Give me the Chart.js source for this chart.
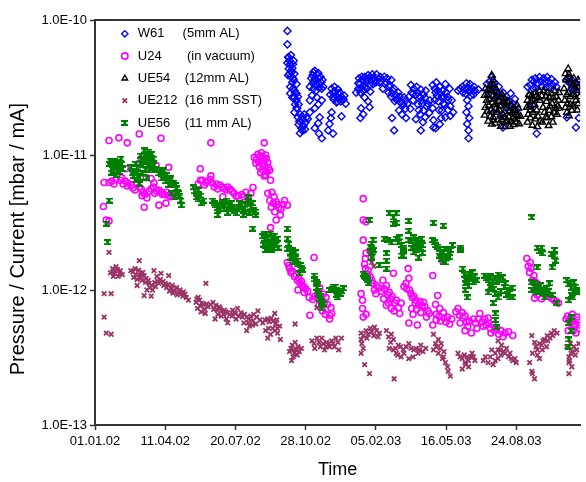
<!DOCTYPE html>
<html>
<head>
<meta charset="utf-8">
<script src="https://cdn.jsdelivr.net/npm/chart.js@4.4.1/dist/chart.umd.min.js"></script>
<style>
  html, body { margin: 0; padding: 0; background: #fff; }
</style>
</head>
<body>
<canvas id="pressure_chart" width="586" height="482"></canvas>
<script>
// Данные: день от 01.01.02, давление/ток в единицах 1e-12 mbar/mA
const UNIT = 1e-12;
const START = Date.UTC(2002, 0, 1);

const xTicks = [0, 100, 200, 300, 400, 500, 600];
const yTicks = [1e-13, 1e-12, 1e-11, 1e-10];

const labels = ["W61", "U24", "UE54", "UE212", "UE56"];
const notes = ["(5mm AL)", "(in vacuum)", "(12mm AL)", "(16 mm SST)", "(11 mm AL)"];

const w61 = [
  [274,83],[274,66],[275,53],[277,50],[274,48],[278,47],[281,44],[279,42],[277,40],[275,39],
  [282,37],[281,34.5],[278,32],[284,30],[278,28.6],[285,29],[284,26.7],[287,25.4],[285,23.7],[287,22.2],
  [276,53],[279,55],[283,50],[282,47],[276,43.5],[280,41],[284,40],[279,38],[283,36],[287,33.5],[282,31],[287,28.6],[281,26.7],[289,27],[286,25.4],[290,23.7],[288,22.2],[284,20.7],
  [289,19],[292,20],[295,19.3],[298,20],[291,17.8],[296,18.1],[301,19],[294,15.8],[292,14.5],[295,15.2],
  [290,16.8],[297,16.5],[300,17.5],[303,18.5],[299,15.5],
  [313,42],[310,39],[316,39.5],[308,37],[313,36.5],[319,37],[322,34.5],[310,34],[316,33],[306,32],[325,32],[315,30],
  [311,41],[318,40.5],[321,38],[324,36],[312,35],[318,34],[323,31],[311,31],[314,33.5],[319,31.5],
  [309,27.6],[316,26.7],[306,25.4],[323,25.4],[318,23.7],[313,22.2],[306,20.7],[320,19],[318,17.2],[313,15.8],[319,14.4],[323,13.3],
  [337,31],[341,32],[346,30.7],[349,29],[339,29],[343,27.6],[351,27],[347,26],[340,25.8],[350,24.9],[344,24.5],[354,25.8],[357,24],
  [335,28],[342,29.5],[347,28.5],[345,25],[339,27],[352,25.5],[355,27.5],
  [337,20.7],[336,18.8],[351,19.3],[334,17],[332,15.2],[339,14.4],
  [377,33.5],[375,31],[381,36],[384,37.8],[389,39],[395,39.5],[401,39.5],[406,38],[386,34.5],[394,36],[399,36],[385,32],[378,29],[405,34.5],
  [375,34],[379,31.5],[383,33],[388,36.5],[392,38],[397,37.5],[400,34.5],[404,36.5],[382,30],[387,31],[391,33],[380,38],[376,37],[372,29],[396,33.5],[392,29.5],
  [384,26.7],[389,24.9],[379,22.2],[391,22.6],[382,20],[378,18.8],
  [412,38],[416,37],[422,36],[413,33.5],[419,32],[426,31],[432,29],[423,28.6],[434,27],[440,26.7],[429,25.8],[443,25.4],[437,24],[447,27],[451,29],
  [415,34.5],[420,33],[424,30],[428,28],[418,29],[431,26],[435,24.5],[427,25],[422,27],[410,31],[407,35],[439,23.5],[442,22],[445,24],[449,22],
  [426,15.2],[433,21.4],[437,20],[423,18.8],[443,18.8],
  [450,33],[454,31],[457,28],[463,27],[453,25.4],[468,28],[471,30],[465,25.4],[460,23.7],[472,23],[468,21.4],[477,25.4],[463,20],[457,18.4],[467,17.5],[464,15.2],[485,15.8],
  [453,28.5],[460,29],[464,30.5],[458,32],[466,24],[470,26.5],[474,24],[461,21.5],[470,19],[476,20.5],
  [481,33],[486,34.5],[491,32],[495,30],[499,33.5],[505,31],[485,29],[494,27],[502,27],[508,25.4],[489,24.9],[498,23.7],[506,23],[481,22.2],[494,21.4],[510,20.7],[499,19],[482,18.1],[482,16],[491,16.9],
  [484,31],[488,30],[492,28.5],[497,27],[500,29],[503,25.5],[496,24],[487,27.5],[484,25.5],[490,21.5],[503,21.5],[506,19.5],[493,18.8],
  [517,30],[523,32],[529,34],[534,33.5],[540,32],[546,30.5],[524,29],[533,29.5],[539,28],
  [520,31],[526,31],[531,31.5],[536,31],[541,30],[528,28.5],[535,27.5],
  [530,25.4],[532,23],[529,20.7],[533,18.8],[530,17],[532,15.2],[532,13.3],
  [558,33.5],[565,37.8],[569,34.5],[575,32],[581,29],[586,27],[592,28.6],[598,26],[595,24],[564,27.6],[574,25.4],[584,23.7],[589,21.4],[578,19.3],[567,20.7],[581,16],[600,21.4],
  [560,30],[562,35],[567,32],[571,29],[576,28],[583,26],[590,25],[594,23],[587,24.5],
  [616,32],[622,36],[627,37],[633,37.8],[639,37],[644,37.8],[650,36.5],[655,34.5],[624,31],[636,32],[647,32],[619,27.6],[629,14.4],[623,23.3],
  [620,33],[625,35],[630,34],[635,35],[641,35],[646,35],[652,33],[628,31],[642,31.5],[657,32],
  [672,19],[671,36],[677,33.5],[682,30],[688,32],[685,16],[689,18.8],
  [674,37],[679,36],[685,34],[690,35],[680,31.5],[687,29]
];

const u24 = [
  [20,12.8],[34,13.4],[46,12.3],[63,14.3],[94,13.3],[165,12.3],[241,12.3],
  [12,4.15],[16,3.3],[20,3.25],[13,6.25],
  [20,6.25],[27,6.1],[36,6.5],[43,6.4],[51,6.0],[57,5.5],[63,5.8],[68,5.3],[74,4.8],[80,6.7],[80,5.6],[85,5.2],[91,5.5],[96,5.1],[102,5.3],[108,4.9],[113,5.2],
  [24,6.4],[30,6.6],[40,6.1],[47,6.2],[54,5.7],[60,6.2],[66,5.6],[71,5.1],[77,5.4],[83,5.8],[88,5.4],[94,5.3],[99,5.1],[105,5.0],[110,5.1],[116,5.0],[46,5.9],[38,6.8],[84,6.2],
  [34,8.4],[44,7.9],[63,8.7],[80,8.1],[87,8.4],[105,8.1],[73,6.8],
  [70,4.1],[101,4.4],[91,4.25],[67,5.0],
  [147,6.1],[153,6.5],[158,6.25],[164,6.6],[170,5.8],[178,6.0],[184,5.65],[189,5.8],[195,5.4],[201,4.95],[209,5.1],[218,4.8],[222,5.2],[182,4.9],[150,7.9],[165,7.0],
  [150,6.5],[156,6.0],[161,6.4],[167,6.2],[173,6.1],[175,5.6],[181,5.8],[187,5.5],[192,5.6],[198,5.2],[204,5.0],[212,4.9],[215,5.3],
  [227,9.6],[232,10.1],[237,10.4],[243,10.0],[229,8.7],[234,8.2],[240,9.1],[246,8.8],[236,7.4],[243,7.1],[249,7.7],[250,6.5],
  [230,9.3],[235,9.8],[239,9.6],[244,9.4],[233,8.9],[238,8.6],[242,8.3],[247,8.0],[238,7.8],[245,7.5],[241,7.0],
  [225,5.75],[246,5.2],[249,4.6],[251,4.1],[256,3.8],[260,4.3],[265,4.0],[270,4.6],[274,4.25],[264,3.6],[258,3.3],[250,2.9],
  [252,5.3],[255,4.9],[258,4.5],[262,4.1],[268,4.3],[254,4.4],
  [274,1.6],[277,1.44],[279,1.35],[284,1.26],[288,1.18],[292,1.12],[289,1.0],[295,1.08],[298,0.96],[312,1.74],[316,1.12],[320,1.04],
  [276,1.52],[281,1.38],[286,1.3],[290,1.22],[294,1.16],[297,1.06],[300,1.02],[303,0.98],[313,0.9],[317,0.92],[322,0.87],[329,0.88],[331,0.78],[324,0.7],[328,0.66],
  [318,0.97],[305,0.88],[310,0.85],[325,0.93],[327,0.81],[319,0.77],[306,0.65],[334,0.65],[334,0.61],[336,0.74],[337,0.67],
  [382,4.75],[382,3.3],[386,3.2],[382,2.34],[386,1.87],[385,1.71],[385,1.44],[389,1.39],[394,1.18],[401,1.08],[398,1.0],[379,0.94],
  [381,0.84],[381,0.73],[382,0.63],[386,0.66],[410,1.18],[415,1.08],[419,0.96],[423,0.9],[429,0.84],[436,0.8],[422,0.73],[415,0.77],
  [426,0.7],[434,0.67],[425,1.33],
  [388,1.3],[392,1.25],[396,1.12],[404,1.04],[408,0.98],[412,1.02],[417,0.92],[421,0.86],[427,0.8],[432,0.74],[418,0.8],[411,0.86],[400,0.94],[384,1.55],
  [443,1.12],[447,1.22],[448,1.0],[454,0.9],[457,0.84],[461,0.77],[468,0.81],[474,0.7],[464,0.68],[451,0.73],[447,0.57],[459,0.55],
  [481,1.28],[488,0.91],[495,1.65],[485,0.78],[491,0.73],[496,0.68],[502,0.63],[508,0.61],[492,0.59],[481,0.55],
  [440,1.06],[444,1.02],[450,0.94],[452,0.88],[456,0.8],[463,0.82],[466,0.76],[470,0.75],[458,0.72],[453,0.66],[472,0.63],[476,0.67],[486,0.66],[490,0.64],[497,0.62],[500,0.58],[505,0.56],[486,0.6],
  [517,0.73],[523,0.68],[527,0.64],[533,0.59],[539,0.61],[520,0.57],[527,0.5],[536,0.48],[548,0.67],[555,0.61],[561,0.57],[567,0.55],
  [572,0.52],[578,0.5],[584,0.48],[589,0.49],[595,0.46],[564,0.48],[553,0.54],[446,1.44],
  [514,0.69],[519,0.65],[524,0.62],[529,0.58],[542,0.57],[546,0.61],[551,0.58],[557,0.55],[563,0.52],[569,0.5],[575,0.47],[581,0.45],[560,0.62],[544,0.52],[531,0.54],
  [615,1.71],[620,1.6],[619,1.35],[623,1.18],[629,1.06],[633,1.0],[640,0.93],[647,0.9],[654,0.84],[660,0.8],[626,0.87],
  [617,1.5],[621,1.45],[625,1.28],[627,1.15],[631,1.1],[636,0.98],[643,0.95],[650,0.87],[657,0.82],[630,0.92],[636,0.86],
  [671,0.61],[677,0.57],[682,0.54],[688,0.6],[680,0.66],[674,0.5],[685,0.48],[690,0.52],
  [673,0.64],[676,0.6],[679,0.58],[684,0.56],[687,0.63],[681,0.5],[689,0.55]
];

const ue54 = [
  [555,27.6],[558,25.4],[561,30],[563,33],[565,39],[567,36],[571,31],[567,27.6],[574,29],[578,26.7],
  [561,23.3],[570,23.7],[577,23],[582,24.5],[586,22.2],[592,23.3],[598,21.4],[603,22.2],[572,20.7],[581,20],
  [589,19.3],[595,18.8],[606,19.3],[555,19.7],[563,19.3],[574,18.1],[585,17.5],[598,18.4],[565,16.9],[578,16.3],[591,16.3],
  [556,31],[559,28],[562,26],[565,30],[568,33],[566,24.5],[569,26],[572,27],[575,25],[580,28],[583,26],[585,24],[588,25],
  [590,21],[594,20.5],[597,22],[600,20],[603,19.5],[601,23.5],[556,22.5],[559,21],[564,21.5],[567,19],[571,22],[576,21.5],
  [579,18.3],[583,19],[587,18],[592,17.8],[596,16.8],[570,17.2],[560,17.8],[584,16.2],[600,17.5],[604,17],
  [616,25.4],[622,27.6],[627,29],[633,30],[639,30],[644,29],[650,28.6],[655,30],[661,29],[619,23],
  [626,23.7],[634,25.4],[643,24.9],[651,24],[660,25.4],[617,20],[624,20.7],[631,19.3],[640,20.7],[647,21.4],
  [654,20.7],[616,17.5],[623,16.6],[637,17.5],[644,18.8],[661,22.2],
  [618,28],[621,25],[624,26],[628,27],[631,26.5],[636,27.5],[642,27],[647,26.5],[653,26.5],[657,27],[659,23],[656,22],[648,23],
  [638,22.5],[629,21.5],[620,21.5],[615,22.5],[627,18.5],[634,17.8],[642,19],[650,19.2],[658,20],[620,18.8],[630,16.2],[646,16.5],[652,17.5],
  [674,43.5],[675,39.5],[671,36],[678,34.5],[682,37],[688,36],[668,31],[674,29],[681,28],[686,30],
  [669,25.4],[677,23.7],[685,25.4],[690,27],[679,21.4],[672,20.7],
  [670,40],[676,37],[680,33],[684,32],[688,31.5],[672,28],[677,27],[684,27],[688,24],[673,24],[681,23],[687,21.5],[670,22.5],[675,19.5]
];

const ue212 = [
  [20,1.9],[13,0.94],[23,0.94],[13,0.63],[16,0.48],[23,0.47],
  [25,1.44],[30,1.49],[36,1.39],[27,1.33],[33,1.26],[39,1.3],
  [28,1.38],[32,1.42],[35,1.32],[22,1.34],[26,1.26],
  [51,1.39],[57,1.44],[63,1.65],[63,1.3],[68,1.35],[73,1.22],[77,1.12],[81,1.08],[74,1.0],[80,0.9],[67,1.18],[60,1.08],
  [85,1.14],[91,1.12],[88,1.26],[84,1.39],[70,0.91],[94,1.33],[105,1.28],
  [54,1.36],[58,1.3],[62,1.4],[66,1.3],[70,1.28],[72,1.14],[76,1.18],[78,1.04],[82,1.0],[86,1.06],[89,1.17],[93,1.2],[97,1.16],[100,1.12],[65,1.22],[60,1.2],[55,1.24],
  [98,1.08],[102,1.04],[108,1.03],[113,0.99],[119,0.96],[123,0.94],[126,0.97],[130,0.88],[133,0.84],
  [104,1.1],[110,1.08],[106,0.98],[116,1.04],[121,1.0],[125,0.9],[128,0.93],[117,0.92],[111,0.95],
  [158,1.12],[144,0.81],[149,0.84],[154,0.78],[146,0.73],[151,0.69],[157,0.67],[147,0.88],[161,0.75],
  [168,0.81],[172,0.77],[178,0.73],[184,0.71],[189,0.68],[195,0.64],[201,0.61],[175,0.66],[187,0.61],[198,0.68],[203,0.73],[171,0.61],[189,0.57],
  [145,0.86],[152,0.8],[156,0.72],[150,0.76],[159,0.79],[165,0.78],[169,0.72],[174,0.71],[180,0.7],[183,0.66],[186,0.69],[192,0.66],[196,0.71],[200,0.67],[180,0.64],[177,0.75],
  [208,0.68],[213,0.66],[219,0.61],[225,0.59],[229,0.56],[212,0.57],[220,0.54],[216,0.5],[226,0.66],[232,0.7],
  [239,0.57],[246,0.61],[251,0.62],[257,0.56],[263,0.54],[243,0.5],[250,0.47],[260,0.48],[264,0.43],[246,0.44],[256,0.67],
  [205,0.64],[210,0.63],[216,0.63],[222,0.64],[218,0.57],[224,0.55],[230,0.63],[235,0.6],[242,0.6],[248,0.58],[254,0.59],[259,0.6],[253,0.52],[260,0.52],[247,0.52],[256,0.5],
  [285,0.56],[277,0.35],[281,0.39],[285,0.41],[289,0.38],[294,0.37],[282,0.32],[280,0.3],[288,0.33],
  [279,0.37],[283,0.36],[287,0.36],[291,0.35],[284,0.34],
  [309,0.42],[316,0.44],[323,0.44],[330,0.41],[313,0.37],[327,0.36],[334,0.38],[316,0.74],
  [312,0.4],[319,0.41],[325,0.4],[333,0.4],[339,0.4],[343,0.44],[321,0.38],[329,0.38],
  [337,0.42],[341,0.38],[347,0.36],[351,0.44],[346,0.41],
  [379,0.48],[386,0.5],[394,0.49],[401,0.5],[405,0.48],[379,0.43],[382,0.37],[379,0.34],[384,0.28],[391,0.24],[426,0.22],
  [382,0.46],[389,0.47],[397,0.46],[403,0.45],[380,0.4],[387,0.44],[398,0.53],[392,0.52],
  [392,1.9],[395,1.77],[394,1.6],[397,1.5],[390,1.95],
  [415,0.5],[422,0.47],[425,0.43],[419,0.37],[425,0.36],[429,0.34],[432,0.39],[439,0.36],[436,0.32],
  [447,0.4],[454,0.36],[460,0.34],[464,0.39],[471,0.37],[453,0.32],[447,0.31],
  [418,0.45],[421,0.41],[428,0.37],[435,0.38],[443,0.38],[450,0.37],[457,0.37],[462,0.36],[467,0.35],[440,0.34],[431,0.33],
  [482,0.47],[489,0.43],[482,0.36],[489,0.34],[496,0.32],[499,0.29],[503,0.25],[506,0.23],[502,0.27],[495,0.31],
  [485,0.4],[486,0.38],[492,0.37],[493,0.4],[497,0.35],[520,0.32],[526,0.33],[530,0.32],[535,0.32],[539,0.32],[528,0.28],
  [517,0.34],[523,0.31],[527,0.29],[532,0.3],[537,0.34],[541,0.3],[523,0.26],[532,0.27],
  [553,0.3],[560,0.29],[567,0.28],[574,0.31],[574,0.36],[579,0.39],[586,0.37],[591,0.34],[595,0.3],[600,0.29],[565,0.36],[574,0.42],
  [556,0.32],[563,0.32],[570,0.3],[578,0.33],[582,0.35],[589,0.32],[593,0.31],[598,0.31],[570,0.34],[577,0.36],[584,0.34],
  [619,0.29],[622,0.25],[623,0.24],[626,0.22],
  [622,0.46],[623,0.34],[630,0.36],[636,0.39],[640,0.43],[644,0.46],[650,0.48],[654,0.5],[658,0.48],[643,0.38],[633,0.31],
  [628,0.38],[633,0.4],[638,0.42],[645,0.42],[648,0.44],[652,0.46],[626,0.41],[630,0.33],[637,0.36],
  [672,0.38],[675,0.32],[675,0.29],[675,0.24],[678,0.34],[682,0.38],[686,0.36],[679,0.27],
  [677,0.4],[680,0.35],[684,0.33],[676,0.3],[689,0.4]
];

const ue56 = [
  [16,3.1],[18,2.26],[20,4.6],
  [22,9.1],[25,8.4],[32,8.8],[37,9.4],[32,7.7],[39,7.9],[30,7.1],[23,7.4],
  [24,8.9],[28,9.0],[34,8.4],[28,8.1],[35,7.5],[27,7.6],[20,8.6],[38,8.6],
  [51,8.1],[60,8.1],[54,7.3],[63,6.8],[57,6.5],[58,8.6],[63,6.1],
  [65,9.9],[70,10.8],[74,10.2],[77,9.6],[81,10.2],[71,9.1],[80,8.8],[84,8.4],[68,8.4],[77,7.7],[74,6.8],
  [56,7.6],[60,7.3],[66,9.3],[72,9.9],[76,10.6],[79,9.4],[83,9.4],[69,8.8],[75,8.4],[81,8.0],[86,7.9],[72,7.8],[67,7.4],[61,7.0],[55,7.0],
  [91,7.3],[98,7.7],[95,6.7],[102,7.1],[108,6.7],[105,6.0],[112,6.25],[116,5.65],[119,5.2],[122,4.6],[123,4.25],[109,5.2],[113,4.85],
  [88,7.7],[94,7.2],[99,7.0],[104,6.7],[110,6.2],[114,6.0],[117,5.3],[120,5.0],[106,6.5],[101,6.4],[96,7.6],
  [140,5.75],[147,5.5],[150,5.0],[154,4.6],[151,4.4],[144,4.85],
  [142,5.4],[146,5.1],[148,4.7],
  [168,4.6],[172,4.25],[178,4.0],[184,4.25],[189,3.75],[196,4.0],[201,3.7],[187,4.6],[175,3.6],[194,4.4],
  [170,4.4],[174,4.05],[181,4.3],[184,3.95],[191,4.15],[198,3.85],[203,4.15],[181,4.5],[177,4.2],
  [208,4.25],[213,4.0],[218,4.6],[220,3.75],[226,3.9],[229,3.6],[211,3.6],[218,4.85],[225,2.85],
  [206,4.4],[210,3.95],[215,3.8],[222,4.1],[224,4.4],[228,3.8],[214,4.3],
  [239,2.5],[244,2.58],[250,2.62],[256,2.53],[260,2.4],[240,2.17],[247,2.25],[254,2.15],[261,2.06],[243,1.98],[251,1.98],
  [242,2.4],[246,2.45],[252,2.4],[257,2.3],[242,2.6],[248,2.2],[253,2.05],[258,2.2],[246,2.05],
  [274,2.85],[274,2.4],[274,2.02],[281,1.98],[285,1.9],[278,1.74],[288,1.65],[292,1.53],[296,1.41],[291,1.33],
  [276,2.2],[279,1.9],[283,1.8],[286,1.72],[289,1.55],[282,1.62],[294,1.46],
  [312,1.28],[315,1.14],[316,1.04],[319,0.94],[320,0.86],[326,0.79],[323,0.73],
  [313,1.2],[317,1.1],[318,0.99],[321,0.9],[322,0.82],
  [340,1.06],[344,1.0],[349,0.94],[354,1.03],[346,0.88],[334,1.0],
  [338,1.02],[342,1.06],[347,0.97],[351,0.98],[344,0.92],
  [382,1.32],[385,1.24],[388,1.18],[389,1.12],[394,2.2],[397,1.98],[394,1.74],[391,3.3],
  [384,1.28],[387,1.22],[392,2.1],[395,1.9],[396,2.35],
  [412,2.4],[417,2.34],[422,2.25],[419,3.7],[425,3.45],[425,3.1],
  [429,2.4],[432,2.25],[436,2.15],[439,2.06],[415,1.87],[415,1.65],[415,1.44],[405,1.53],[439,1.8],
  [429,3.7],[429,3.15],[447,3.25],[447,2.75],[482,3.15],[496,3.0],
  [433,2.45],[440,1.98],[437,1.8],
  [447,2.34],[454,2.45],[460,2.34],[465,2.4],[457,2.15],[464,2.06],[454,1.9],[461,1.74],
  [451,2.3],[457,2.25],[461,2.1],[466,2.15],[451,2.05],[458,1.98],[466,1.88],
  [481,2.34],[485,2.15],[491,2.02],[496,1.9],[494,1.71],[502,1.8],[499,1.6],[506,1.98],[509,2.15],[496,1.6],
  [484,2.25],[488,2.1],[492,1.88],[499,2.0],[504,1.9],[500,1.72],[505,1.75],[490,1.8],
  [520,2.06],[520,1.98],
  [524,1.44],[530,1.24],[537,1.35],[541,1.26],[544,1.18],[527,1.12],[527,1.0],[530,0.88],
  [526,1.3],[533,1.32],[529,1.18],[535,1.2],[539,1.14],[532,1.07],
  [555,1.28],[560,1.18],[565,1.08],[570,1.22],[574,1.3],[580,1.24],[560,0.96],[570,0.94],[574,0.88],[567,0.8],
  [557,1.22],[563,1.26],[567,1.15],[572,1.15],[577,1.18],[563,1.05],[568,1.02],[578,0.98],[583,1.05],[590,0.95],[586,0.92],
  [584,1.12],[588,1.0],[594,1.04],[595,0.88],[591,0.88],[570,0.67],[570,0.6],[572,0.53],
  [622,3.45],
  [630,2.06],[636,2.06],[637,1.87],[654,1.98],[654,1.8],[651,1.47],[630,1.47],
  [633,1.94],[650,1.85],[656,1.65],
  [622,1.14],[626,1.12],[630,1.04],[636,1.0],[622,1.0],[640,0.88],[644,0.94],[647,1.12],[657,0.8],
  [626,1.05],[632,0.98],[638,0.95],[643,1.03],[646,0.98],[651,0.92],[634,1.08],[628,0.96],
  [672,1.18],[678,1.04],[680,0.88],[675,0.84],[686,1.0],[682,1.14],
  [674,1.1],[677,1.13],[681,0.98],[684,1.06],[688,0.96],[678,0.92],
  [678,0.63],[675,0.57],[678,0.5],[675,0.43],[675,0.38]
];

const toPoints = (arr) => arr.map(([d, v]) => ({ x: d, y: v * UNIT }));

function fmtDate(day) {
  const d = new Date(START + day * 86400000);
  const dd = String(d.getUTCDate()).padStart(2, "0");
  const mm = String(d.getUTCMonth() + 1).padStart(2, "0");
  const yy = String(d.getUTCFullYear()).slice(2);
  return dd + "." + mm + "." + yy;
}

// Маркер UE56 — зелёная «I»
const ue56Mark = document.createElement("canvas");
ue56Mark.width = 7;
ue56Mark.height = 6;
(function () {
  const g = ue56Mark.getContext("2d");
  g.fillStyle = "#008000";
  g.fillRect(0, 0, 7, 2);
  g.fillRect(2, 2, 3, 2);
  g.fillRect(0, 4, 7, 2);
})();

// Легенда внутри области графика
const legendPlace = {
  id: "legendPlace",
  afterLayout(chart) {
    const lg = chart.legend;
    if (!lg) return;
    lg.left = chart.chartArea.left + 14;
    lg.top = 18;
    lg.right = lg.left + lg.width;
    lg.bottom = lg.top + lg.height;
  },
};

// Верхняя рамка
const topFrame = {
  id: "topFrame",
  afterDraw(chart) {
    const { ctx, chartArea } = chart;
    ctx.save();
    ctx.strokeStyle = "#333";
    ctx.lineWidth = 2;
    ctx.beginPath();
    ctx.moveTo(chartArea.left, chartArea.top);
    ctx.lineTo(chartArea.right, chartArea.top);
    ctx.stroke();
    ctx.restore();
  },
};

const pad = [" ".repeat(5), " ".repeat(7), " ".repeat(4), " ".repeat(2), " ".repeat(4)];
const legendText = labels.map((l, i) => l + pad[i] + notes[i]);

const ctx = document.getElementById("pressure_chart").getContext("2d");
const myChart = new Chart(ctx, {
  type: "scatter",
  data: {
    // порядок обратный: первый набор рисуется поверх
    datasets: [
      {
        label: legendText[4],
        data: toPoints(ue56),
        pointStyle: ue56Mark,
        pointRadius: 3,
        backgroundColor: "#008000",
        borderColor: "#008000",
        borderWidth: 0,
      },
      {
        label: legendText[3],
        data: toPoints(ue212),
        pointStyle: "crossRot",
        pointRadius: 3.2,
        backgroundColor: "transparent",
        borderColor: "#993366",
        borderWidth: 1.8,
      },
      {
        label: legendText[2],
        data: toPoints(ue54),
        pointStyle: "triangle",
        pointRadius: 3.8,
        backgroundColor: "transparent",
        borderColor: "#000",
        borderWidth: 1.4,
      },
      {
        label: legendText[1],
        data: toPoints(u24),
        pointStyle: "circle",
        pointRadius: 3,
        backgroundColor: "transparent",
        borderColor: "#ff00ff",
        borderWidth: 1.6,
      },
      {
        label: legendText[0],
        data: toPoints(w61),
        pointStyle: "rectRot",
        pointRadius: 3.6,
        backgroundColor: "transparent",
        borderColor: "#0000ff",
        borderWidth: 1.4,
      },
    ],
  },
  plugins: [legendPlace, topFrame],
  options: {
    responsive: false,
    animation: false,
    devicePixelRatio: 1,
    layout: { padding: { top: 20, right: 0, bottom: 0, left: 0 } },
    plugins: {
      tooltip: { enabled: false },
      legend: {
        position: "chartArea",
        align: "start",
        reverse: true,
        labels: {
          usePointStyle: true,
          boxHeight: 4.5,
          padding: 9.3,
          color: "#000",
          font: { family: "Liberation Sans", size: 13 },
        },
      },
    },
    scales: {
      x: {
        type: "linear",
        min: 0,
        max: 691,
        afterBuildTicks: (scale) => {
          scale.ticks = xTicks.map((v) => ({ value: v }));
        },
        afterFit: (scale) => {
          scale.height = 57;
        },
        border: { color: "#333", width: 2 },
        grid: { drawOnChartArea: false, color: "#333", tickLength: 5, tickWidth: 1.5 },
        ticks: {
          padding: 4,
          color: "#000",
          maxRotation: 0,
          font: { family: "Liberation Sans", size: 13 },
          callback: (v) => fmtDate(v),
        },
        title: {
          display: true,
          text: "Time",
          color: "#000",
          font: { family: "Liberation Sans", size: 18 },
          padding: { top: 0, bottom: 1 },
        },
      },
      y: {
        type: "logarithmic",
        min: 1e-13,
        max: 1e-10,
        afterBuildTicks: (scale) => {
          scale.ticks = yTicks.map((v) => ({ value: v }));
        },
        afterFit: (scale) => {
          scale.width = 95;
        },
        border: { color: "#333", width: 2 },
        grid: { drawOnChartArea: false, color: "#333", tickLength: 5, tickWidth: 1.5 },
        ticks: {
          padding: 3,
          color: "#000",
          font: { family: "Liberation Sans", size: 13 },
          callback: (v) => Number(v).toExponential(1).toUpperCase(),
        },
        title: {
          display: true,
          // хвостовые пробелы сдвигают подпись вниз, как в оригинале
          text: "Pressure / Current [mbar / mA]      ",
          color: "#000",
          font: { family: "Liberation Sans", size: 20 },
          padding: { top: 6, bottom: 0 },
        },
      },
    },
  },
});
</script>
</body>
</html>
